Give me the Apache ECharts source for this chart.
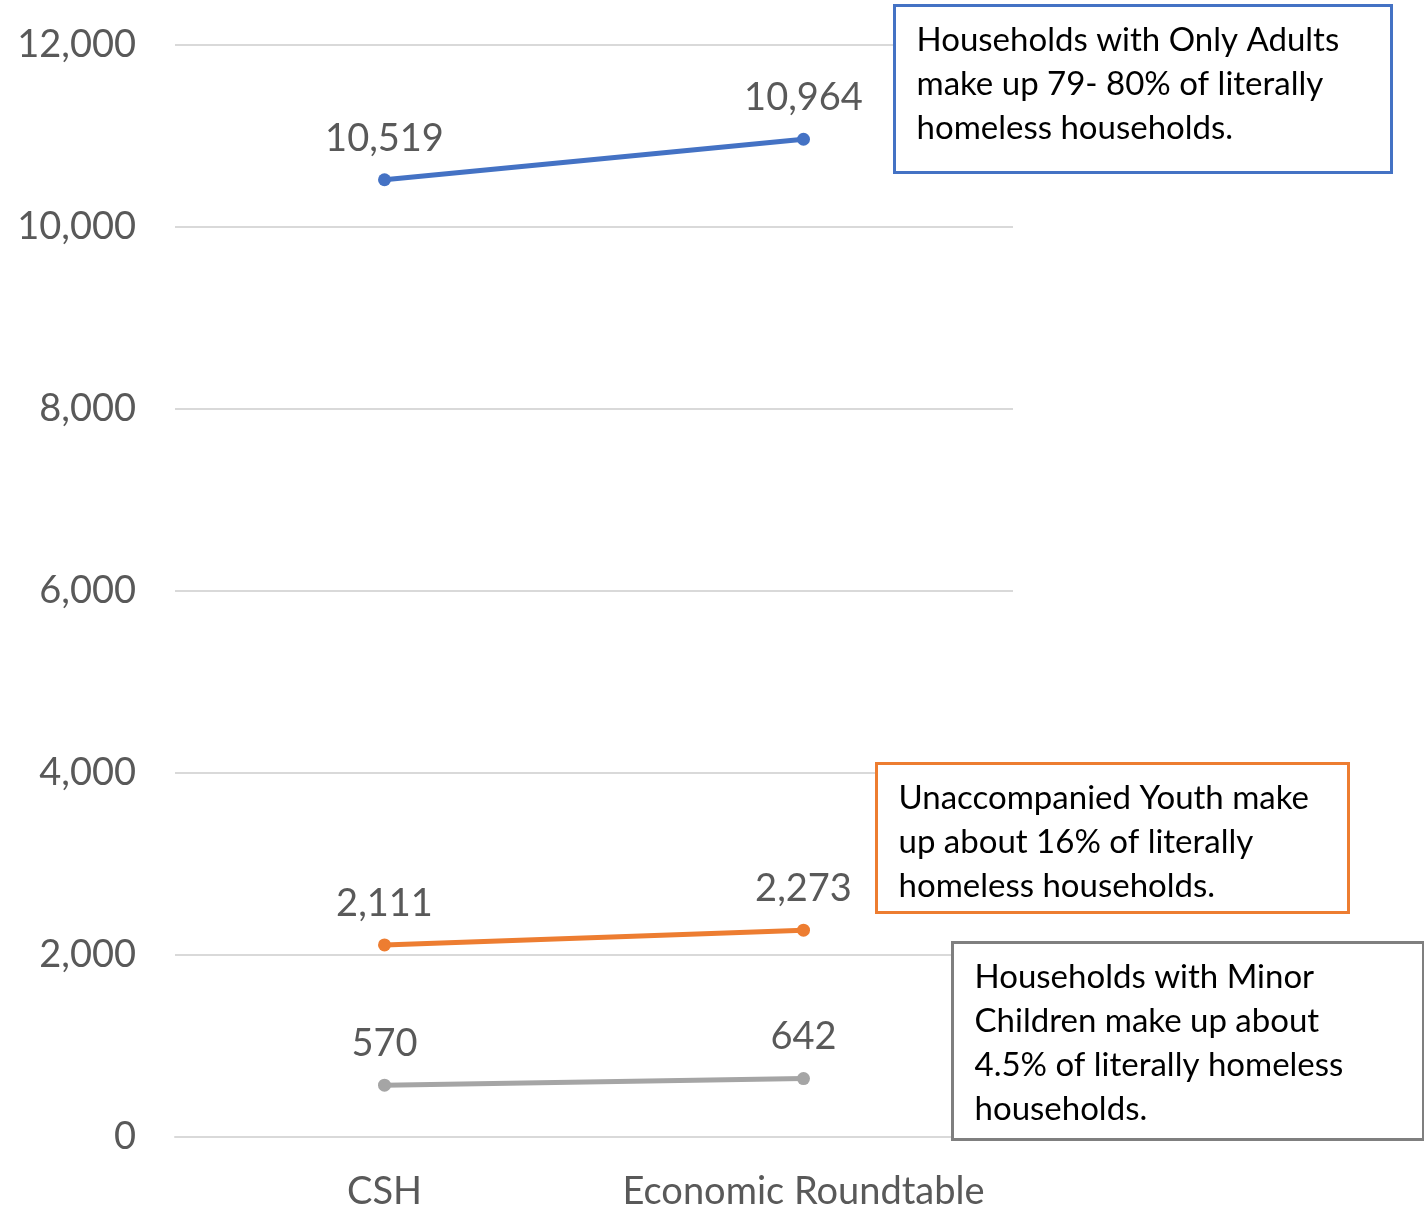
<!DOCTYPE html>
<html>
<head>
<meta charset="utf-8">
<script src="https://cdn.jsdelivr.net/npm/echarts@6/dist/echarts.min.js"></script>
<style>
html,body{margin:0;padding:0;background:#fff;}
#chart{width:1424px;height:1211px;}
</style>
</head>
<body>
<div id="chart"></div>
<script>
const categories = ['CSH', 'Economic Roundtable'];
const onlyAdults = [10519, 10964];
const youth = [2111, 2273];
const minorChildren = [570, 642];
const yTicks = { min: 0, max: 12000, interval: 2000 };
const notes = [
  'Households with Only Adults\nmake up 79- 80% of literally\nhomeless households.',
  'Unaccompanied Youth make\nup about 16% of literally\nhomeless households.',
  'Households with Minor\nChildren make up about\n4.5% of literally homeless\nhouseholds.'
];

const FONT = 'Lato';
const chart = echarts.init(document.getElementById('chart'));

function lineSeries(name, data, color) {
  return {
    name: name,
    type: 'line',
    data: data,
    symbol: 'circle',
    symbolSize: 13,
    lineStyle: { color: color, width: 5 },
    itemStyle: { color: color },
    label: {
      show: true,
      position: 'top',
      distance: 16,
      color: '#595959',
      fontFamily: FONT,
      fontSize: 38,
      formatter: p => p.value.toLocaleString('en-US')
    },
    animation: false
  };
}

function noteBox(x, y, w, h, stroke, text) {
  return {
    type: 'group',
    left: x, top: y,
    z: 100,
    children: [
      { type: 'rect', z: 100, shape: { x: 0, y: 0, width: w, height: h },
        style: { fill: '#fff', stroke: stroke, lineWidth: 3 } },
      { type: 'text', z: 101, x: 22, y: 13,
        style: { text: text, fill: '#000', font: '33px ' + FONT, lineHeight: 44 } }
    ]
  };
}

chart.setOption({
  backgroundColor: '#fff',
  animation: false,
  grid: { left: 175, right: 411, top: 45, bottom: 71, containLabel: false },
  xAxis: {
    type: 'category',
    data: categories,
    boundaryGap: true,
    axisLine: { show: true, lineStyle: { color: '#d9d9d9', width: 2 } },
    axisTick: { show: false },
    axisLabel: { interval: 0, hideOverlap: false, color: '#595959', fontFamily: FONT, fontSize: 38, margin: 36 }
  },
  yAxis: {
    type: 'value',
    min: yTicks.min, max: yTicks.max, interval: yTicks.interval,
    axisLine: { show: false },
    axisTick: { show: false },
    splitLine: { lineStyle: { color: '#d9d9d9', width: 2 } },
    axisLabel: { color: '#595959', fontFamily: FONT, fontSize: 38, margin: 39,
      formatter: v => v.toLocaleString('en-US') }
  },
  series: [
    lineSeries('Households with Only Adults', onlyAdults, '#4472C4'),
    lineSeries('Unaccompanied Youth', youth, '#ED7D31'),
    lineSeries('Households with Minor Children', minorChildren, '#A5A5A5')
  ],
  graphic: [
    noteBox(893, 4, 497, 167, '#4472C4', notes[0]),
    noteBox(875, 762, 472, 149, '#ED7D31', notes[1]),
    noteBox(951, 941, 471, 197, '#7F7F7F', notes[2])
  ]
});
</script>
</body>
</html>
